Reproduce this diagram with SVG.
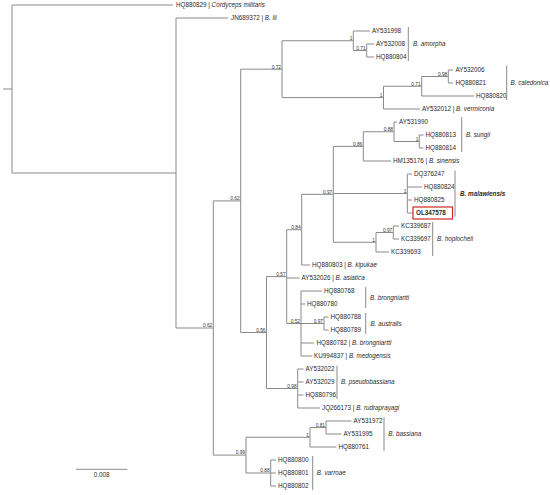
<svg xmlns="http://www.w3.org/2000/svg" width="550" height="495" viewBox="0 0 550 495">
<style>
.br{fill:none;stroke:#8a8a8a;stroke-width:1}
.bar{fill:none;stroke:#8a8a8a;stroke-width:1}
.lf{font-family:"Liberation Sans",Arial,sans-serif;font-size:6.3px;fill:#2a2a2a}
.cl{font-family:"Liberation Sans",Arial,sans-serif;font-size:6.3px;fill:#2a2a2a;font-style:italic}
.it{font-style:italic}
.nl{font-family:"Liberation Sans",Arial,sans-serif;font-size:4.8px;fill:#333;text-anchor:end}
.bx{fill:none;stroke:#d02828;stroke-width:1.2}
</style>
<rect width="550" height="495" fill="#fff"/>
<g id="connectors" class="br">
<path d="M3,89H12M12,5V173M12,5H173M12,173H176M176,18V328M176,18H228"/>
<path d="M176,328H213.3M213.3,200.9V455.1M213.3,200.9H240.7M240.7,69.2V332.5"/>
<path d="M240.7,69.2H282M282,40.75V97.6M282,40.75H353.3M353.3,31V50.5M353.3,31H370M353.3,50.5H366.7M366.7,44V57M366.7,44H374M366.7,57H374"/>
<path d="M282,97.6H383.5M383.5,86.25V109M383.5,86.25H421.7M421.7,76.5V96M421.7,76.5H448.3M448.3,70V83M448.3,70H453M448.3,83H453M421.7,96H474M383.5,109H420"/>
<path d="M240.7,332.5H266.5M266.5,276.6V388.5M266.5,276.6H286.7M286.7,229.7V323.5M286.7,229.7H301.7M301.7,194.3V265M301.7,194.3H333.3M333.3,146.4V242.25"/>
<path d="M333.3,146.4H363.3M363.3,131.75V161M363.3,131.75H394M394,122V141.5M394,122H397M394,141.5H419.3M419.3,135V148M419.3,135H423.5M419.3,148H423.5M363.3,161H391"/>
<path d="M333.3,193.5H407.3M407.3,174V213M407.3,174H412M407.3,187H422M407.3,200H412M407.3,213H413"/>
<path d="M333.3,242.25H376M376,232.5V252M376,232.5H393.3M393.3,226V239M393.3,226H399M393.3,239H399M376,252H389"/>
<path d="M301.7,265H310M286.7,278H299.5M286.7,323.5H301M301,291V356M301,291H322M301,304H305M301,323.5H324M324,317V330M324,317H328.5M324,330H328.5M301,343H314M301,356H312"/>
<path d="M266.5,388.5H297.7M297.7,369V408M297.7,369H303.5M297.7,382H303.5M297.7,395H303.5M297.7,408H320"/>
<path d="M213.3,455.1H246M246,437.25V473M246,437.25H310M310,427.5V447M310,427.5H326M326,421V434M326,421H351.5M326,434H341.5M310,447H336.5"/>
<path d="M246,473H270.7M270.7,460V486M270.7,460H276M270.7,473H276M270.7,486H276"/>
</g>
<g id="support-values">
<text class="nl" x="281" y="68.5">0.72</text>
<text class="nl" x="352.3" y="40">1</text>
<text class="nl" x="365.7" y="49.8">0.71</text>
<text class="nl" x="382.5" y="96.9">1</text>
<text class="nl" x="420.7" y="85.5">0.71</text>
<text class="nl" x="447.3" y="75.8">0.98</text>
<text class="nl" x="362.3" y="145.7">0.86</text>
<text class="nl" x="393" y="131">0.88</text>
<text class="nl" x="418.3" y="140.8">1</text>
<text class="nl" x="332.3" y="193.6">0.97</text>
<text class="nl" x="406.3" y="192.8">1</text>
<text class="nl" x="375" y="241.5">1</text>
<text class="nl" x="392.3" y="231.8">0.97</text>
<text class="nl" x="300.7" y="229">0.84</text>
<text class="nl" x="285.7" y="275.9">0.57</text>
<text class="nl" x="300" y="322.8">0.52</text>
<text class="nl" x="323" y="322.8">0.97</text>
<text class="nl" x="265.5" y="331.8">0.56</text>
<text class="nl" x="239.7" y="200.2">0.62</text>
<text class="nl" x="296.7" y="387.8">0.98</text>
<text class="nl" x="212.3" y="327.3">0.62</text>
<text class="nl" x="245" y="454.4">0.99</text>
<text class="nl" x="309" y="436.5">1</text>
<text class="nl" x="325" y="426.8">0.81</text>
<text class="nl" x="269.7" y="472.3">0.88</text>
</g>
<g id="leaves">
<text id="n-HQ880829" class="lf" x="176" y="7.2">HQ880829 | <tspan class="it">Cordyceps militaris</tspan></text>
<text id="n-JN689372" class="lf" x="231" y="20.2">JN689372 | <tspan class="it">B. lii</tspan></text>
<text id="n-AY531998" class="lf" x="372" y="33.2">AY531998</text>
<text id="n-AY532008" class="lf" x="376" y="46.2">AY532008</text>
<text id="n-HQ880804" class="lf" x="376" y="59.2">HQ880804</text>
<text id="n-AY532006" class="lf" x="455.5" y="72.2">AY532006</text>
<text id="n-HQ880821" class="lf" x="455.5" y="85.2">HQ880821</text>
<text id="n-HQ880820" class="lf" x="476" y="98.2">HQ880820</text>
<text id="n-AY532012" class="lf" x="422" y="111.2">AY532012 | <tspan class="it">B. vermiconia</tspan></text>
<text id="n-AY531990" class="lf" x="399" y="124.2">AY531990</text>
<text id="n-HQ880813" class="lf" x="425.5" y="137.2">HQ880813</text>
<text id="n-HQ880814" class="lf" x="425.5" y="150.2">HQ880814</text>
<text id="n-HM135176" class="lf" x="393" y="163.2">HM135176 | <tspan class="it">B. sinensis</tspan></text>
<text id="n-DQ376247" class="lf" x="414" y="176.2">DQ376247</text>
<text id="n-HQ880824" class="lf" x="424" y="189.2">HQ880824</text>
<text id="n-HQ880825" class="lf" x="414" y="202.2">HQ880825</text>
<g id="n-OL347578"><rect class="bx" x="413" y="207" width="39.5" height="12"/><text class="lf" x="416" y="215.2" font-weight="bold" fill="#111">OL347578</text></g>
<text id="n-KC339687" class="lf" x="401" y="228.2">KC339687</text>
<text id="n-KC339697" class="lf" x="401" y="241.2">KC339697</text>
<text id="n-KC339693" class="lf" x="391" y="254.2">KC339693</text>
<text id="n-HQ880803" class="lf" x="312" y="267.2">HQ880803 | <tspan class="it">B. kipukae</tspan></text>
<text id="n-AY532026" class="lf" x="301.5" y="280.2">AY532026 | <tspan class="it">B. asiatica</tspan></text>
<text id="n-HQ880768" class="lf" x="324" y="293.2">HQ880768</text>
<text id="n-HQ880780" class="lf" x="307" y="306.2">HQ880780</text>
<text id="n-HQ880788" class="lf" x="330.5" y="319.2">HQ880788</text>
<text id="n-HQ880789" class="lf" x="330.5" y="332.2">HQ880789</text>
<text id="n-HQ880782" class="lf" x="316.5" y="345.2">HQ880782 | <tspan class="it">B. brongniartti</tspan></text>
<text id="n-KU994837" class="lf" x="314" y="358.2">KU994837 | <tspan class="it">B. medogensis</tspan></text>
<text id="n-AY532022" class="lf" x="305.5" y="371.2">AY532022</text>
<text id="n-AY532029" class="lf" x="305.5" y="384.2">AY532029</text>
<text id="n-HQ880796" class="lf" x="305.5" y="397.2">HQ880796</text>
<text id="n-JQ266173" class="lf" x="322" y="410.2">JQ266173 | <tspan class="it">B. rudraprayagi</tspan></text>
<text id="n-AY531972" class="lf" x="353.5" y="423.2">AY531972</text>
<text id="n-AY531995" class="lf" x="343.5" y="436.2">AY531995</text>
<text id="n-HQ880761" class="lf" x="338.5" y="449.2">HQ880761</text>
<text id="n-HQ880800" class="lf" x="278" y="462.2">HQ880800</text>
<text id="n-HQ880801" class="lf" x="278" y="475.2">HQ880801</text>
<text id="n-HQ880802" class="lf" x="278" y="488.2">HQ880802</text>
</g>
<g id="clades">
<g id="c-amorpha"><path class="bar" d="M408.3,27V61"/><text class="cl" x="413" y="46.2">B. amorpha</text></g>
<g id="c-caledonica"><path class="bar" d="M506.7,65.5V100"/><text class="cl" x="510.5" y="85.2">B. caledonica</text></g>
<g id="c-sungii"><path class="bar" d="M461.7,117V152"/><text class="cl" x="466" y="137.2">B. sungii</text></g>
<g id="c-malawiensis"><path class="bar" d="M455,170.5V216.5"/><text class="cl" x="460" y="195.7" font-weight="bold" fill="#111">B. malawiensis</text></g>
<g id="c-hoplocheli"><path class="bar" d="M432.7,222V256"/><text class="cl" x="437" y="241.2">B. hoplocheli</text></g>
<g id="c-brongniartti"><path class="bar" d="M365.7,287V308"/><text class="cl" x="370" y="299.7">B. brongniartti</text></g>
<g id="c-australis"><path class="bar" d="M365.7,313V334"/><text class="cl" x="370.5" y="325.7">B. australis</text></g>
<g id="c-pseudobassiana"><path class="bar" d="M337,365.5V399"/><text class="cl" x="341" y="384.2">B. pseudobassiana</text></g>
<g id="c-bassiana"><path class="bar" d="M384,417V451"/><text class="cl" x="388.3" y="436.2">B. bassiana</text></g>
<g id="c-varroae"><path class="bar" d="M312.7,456V490"/><text class="cl" x="316.7" y="475.2">B. varroae</text></g>
</g>
<g id="scale">
<path class="br" d="M76,469.3H127.3"/>
<text class="lf" x="101.7" y="476.5" text-anchor="middle" font-size="6">0.008</text>
</g>
</svg>
